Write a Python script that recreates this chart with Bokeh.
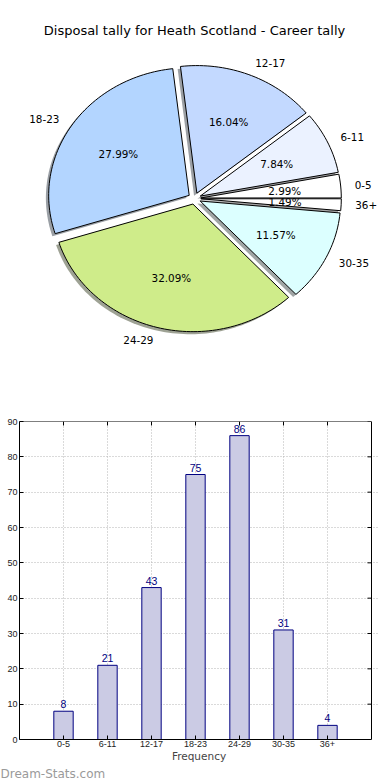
import numpy as np
from bokeh.plotting import figure
from bokeh.layouts import column
from bokeh.models import Range1d, FixedTicker, Title, ColumnDataSource
from bokeh.core.properties import value
from bokeh.embed import file_html
from bokeh.resources import INLINE

# ---------------- data ----------------
title_text = "Disposal tally for Heath Scotland - Career tally"
categories = ["0-5", "6-11", "12-17", "18-23", "24-29", "30-35", "36+"]
counts = [8, 21, 43, 75, 86, 31, 4]
slice_colors = ["#ffffff", "#ebf2ff", "#c3d9ff", "#b3d5ff", "#cfec8a", "#dcffff", "#ffffff"]
y_ticks = [0, 10, 20, 30, 40, 50, 60, 70, 80, 90]
x_label = "Frequency"
watermark = "Dream-Stats.com"

FONT = "DejaVu Sans"

W = 390
BL, BR = 19, 12              # shared left/right borders (frames align in a column)
FL, FR = BL, W - BR
SPINE_R = 371                # right spine of the bar chart, in pixels

# ---------------- pie figure ----------------
H1 = 396
CXP, CYP = 194, 198          # pie centre in figure pixels
RXP, RYP = 140.5, 127.6      # pie radii in pixels (elliptical, like the original)
EXPLODE = 0.045
SHADOW = 0.02

p1 = figure(width=W, height=H1, output_backend="svg", toolbar_location=None,
            x_range=Range1d((FL - CXP) / RXP, (FR - CXP) / RXP),
            y_range=Range1d(-(H1 - CYP) / RYP, CYP / RYP),
            x_axis_type=None, y_axis_type=None,
            min_border_left=BL, min_border_right=BR, min_border_top=0, min_border_bottom=0)
p1.outline_line_color = None
p1.grid.visible = False

total = float(sum(counts))
fracs = [c / total for c in counts]

xs, ys, sxs, sys_, shadow_cols = [], [], [], [], []
lab_x, lab_y, lab_align = [], [], []
pct_x, pct_y, pct_t = [], [], []
start = 0.0
for f, col in zip(fracs, slice_colors):
    t1 = 2 * np.pi * start
    t2 = 2 * np.pi * (start + f)
    mid = 0.5 * (t1 + t2)
    ox = EXPLODE * np.cos(mid)
    oy = EXPLODE * np.sin(mid)
    n = max(int(np.degrees(t2 - t1) / 1.5), 3)
    th = np.linspace(t1, t2, n)
    px = np.concatenate([[0.0], np.cos(th), [0.0]]) + ox
    py = np.concatenate([[0.0], np.sin(th), [0.0]]) + oy
    xs.append(list(px)); ys.append(list(py))
    sxs.append(list(px - SHADOW)); sys_.append(list(py - SHADOW))
    r, g, b = [int(col[i:i + 2], 16) for i in (1, 3, 5)]
    shadow_cols.append("#%02x%02x%02x" % (int(r * 0.3), int(g * 0.3), int(b * 0.3)))
    lx = ox + 1.1 * np.cos(mid)
    ly = oy + 1.1 * np.sin(mid)
    lab_x.append(lx); lab_y.append(ly)
    lab_align.append("left" if lx > 0 else "right")
    pct_x.append(ox + 0.6 * np.cos(mid)); pct_y.append(oy + 0.6 * np.sin(mid))
    pct_t.append("%.2f%%" % (f * 100))
    start += f

p1.patches(sxs, sys_, fill_color=shadow_cols, fill_alpha=0.5, line_color=None)
p1.patches(xs, ys, fill_color=slice_colors, line_color="black", line_width=1)

lab_src = ColumnDataSource(dict(x=lab_x, y=lab_y, t=categories, a=lab_align))
p1.text(x="x", y="y", text="t", text_align="a", source=lab_src,
        text_baseline="middle", text_font=value(FONT), text_font_size="10.4px",
        text_color="black")
p1.text(x=pct_x, y=pct_y, text=pct_t, text_align="center", text_baseline="middle",
        text_font=value(FONT), text_font_size="10.4px", text_color="black")

p1.text(x=[0.0], y=[(CYP - 29.5) / RYP], text=[title_text],
        text_align="center", text_baseline="middle",
        text_font=value(FONT), text_font_size="13px", text_color="black")

# ---------------- bar figure ----------------
H2 = 384
idx = list(range(len(categories)))
n_cat = len(categories)
px_per_unit = (SPINE_R - FL) / (n_cat + 1)
x_end = n_cat + (FR - SPINE_R) / px_per_unit
p2 = figure(width=W, height=H2, output_backend="svg", toolbar_location=None,
            x_range=Range1d(-1, x_end), y_range=Range1d(y_ticks[0], y_ticks[-1]),
            min_border_left=BL, min_border_right=BR, min_border_top=25, min_border_bottom=38)
p2.outline_line_color = None
p2.background_fill_color = "white"

p2.xaxis.ticker = FixedTicker(ticks=idx)
p2.xaxis.major_label_overrides = {i: c for i, c in zip(idx, categories)}
p2.xaxis.bounds = (-1, n_cat)
p2.yaxis.ticker = FixedTicker(ticks=y_ticks)
for ax in (p2.xaxis[0], p2.yaxis[0]):
    ax.major_tick_in = 4
    ax.major_tick_out = 0
    ax.minor_tick_line_color = None
    ax.axis_line_color = "black"
    ax.major_tick_line_color = "black"
    ax.major_label_text_font = "Liberation Sans"
    ax.major_label_text_font_size = "9px"
    ax.major_label_text_color = "#222222"
    ax.major_label_standoff = 2
p2.xaxis.major_label_standoff = 1
p2.xaxis.axis_label = x_label
p2.xaxis.axis_label_text_font = FONT
p2.xaxis.axis_label_text_font_size = "10.5px"
p2.xaxis.axis_label_text_font_style = "normal"
p2.xaxis.axis_label_standoff = 0

p2.xgrid.ticker = FixedTicker(ticks=idx)
p2.ygrid.ticker = FixedTicker(ticks=y_ticks)
p2.grid.grid_line_color = "#b4b4b4"
p2.grid.grid_line_dash = "1 2"
p2.grid.grid_line_width = 1
p2.ygrid.bounds = (-1, n_cat)

# top and right spines
p2.segment(x0=[-1, n_cat], y0=[y_ticks[-1], y_ticks[0]], x1=[n_cat, n_cat],
           y1=[y_ticks[-1], y_ticks[-1]], line_color="black", line_width=1)
# inward tick marks on the right and top spines
p2.ray(x=[n_cat] * len(y_ticks), y=y_ticks, length=4, length_units="screen",
       angle=np.pi, line_color="black", line_width=1)
p2.ray(x=idx, y=[y_ticks[-1]] * len(idx), length=4, length_units="screen",
       angle=-np.pi / 2, line_color="black", line_width=1)

p2.vbar(x=idx, top=counts, width=0.44, fill_color="#cbcbe4",
        line_color="#000080", line_width=1)
p2.text(x=idx, y=counts, text=[str(c) for c in counts], text_align="center",
        text_baseline="bottom", y_offset=-3, text_font=value("Liberation Sans"),
        text_font_size="10.5px", text_color="#000080")

# watermark as a left-aligned title below the axis
wm = Title(text=watermark, align="left", offset=-BL, standoff=0,
           text_font=FONT, text_font_size="12px", text_color="#9a9a9a",
           text_font_style="normal")
p2.add_layout(wm, "below")

layout = column(p1, p2, spacing=0)
open("out.html", "w").write(file_html(layout, INLINE))
